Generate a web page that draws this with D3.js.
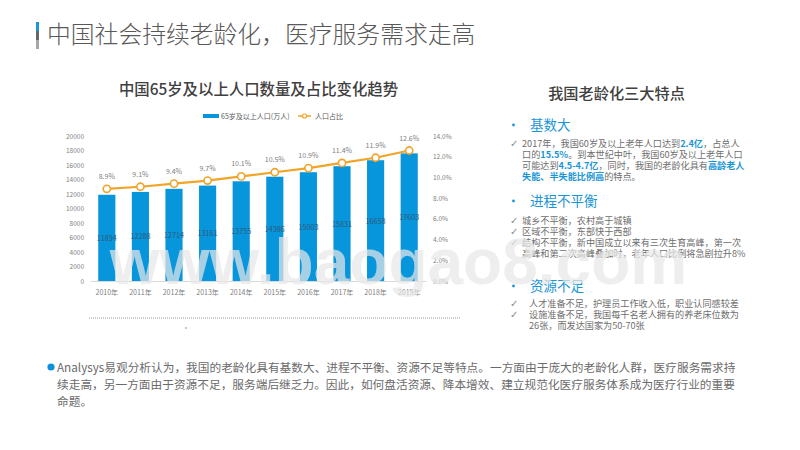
<!DOCTYPE html>
<html>
<head>
<meta charset="utf-8">
<title>中国社会持续老龄化，医疗服务需求走高</title>
<script src="https://d3js.org/d3.v7.min.js"></script>
<style>
    html, body { margin: 0; padding: 0; background: #fff; }
    svg { display: block; font-family: "Noto Sans CJK SC", "Noto Sans", sans-serif; }
</style>
</head>
<body>
<svg id="chart" width="800" height="450"></svg>
<script>
const years = ["2010年", "2011年", "2012年", "2013年", "2014年", "2015年", "2016年", "2017年", "2018年", "2019年"];
const population = [11894, 12288, 12714, 13161, 13755, 14386, 15003, 15831, 16658, 17603];
const share = [8.9, 9.1, 9.4, 9.7, 10.1, 10.5, 10.9, 11.4, 11.9, 12.6];
const leftTicks = [0, 2000, 4000, 6000, 8000, 10000, 12000, 14000, 16000, 18000, 20000];
const rightTicks = [0, 2, 4, 6, 8, 10, 12, 14];
const seriesNames = ["65岁及以上人口(万人)", "人口占比"];

const pageTitle = "中国社会持续老龄化，医疗服务需求走高";
const chartTitle = "中国65岁及以上人口数量及占比变化趋势";
const panelTitle = "我国老龄化三大特点";
const watermark = "www.baogao8.com";
// [text, highlighted] runs per line
const panelLines = [
    { y: 147, check: 510, x: 522, runs: [["2017年，我国60岁及以上老年人口达到"], ["2.4亿", 1], ["，占总人"]] },
    { y: 158, x: 522, runs: [["口的"], ["15.5%", 1], ["。到本世纪中叶，我国60岁及以上老年人口"]] },
    { y: 169, x: 522, runs: [["可能达到"], ["4.5-4.7亿", 1], ["，同时，我国的老龄化具有"], ["高龄老人", 1]] },
    { y: 180, x: 522, runs: [["失能、半失能比例高", 1], ["的特点。"]] },
    { y: 224, check: 510, x: 522, runs: [["城乡不平衡，农村高于城镇"]] },
    { y: 235, check: 510, x: 522, runs: [["区域不平衡，东部快于西部"]] },
    { y: 246, check: 510, x: 522, runs: [["结构不平衡，新中国成立以来有三次生育高峰，第一次"]] },
    { y: 257, x: 522, runs: [["高峰和第二次高峰叠加时，老年人口比例将急剧拉升8%"]] },
    { y: 307, check: 510, x: 529, runs: [["人才准备不足，护理员工作收入低，职业认同感较差"]] },
    { y: 318, check: 510, x: 529, runs: [["设施准备不足，我国每千名老人拥有的养老床位数为"]] },
    { y: 329, x: 529, runs: [["26张，而发达国家为50-70张"]] }
];
const panelHeads = [{ y: 130, text: "基数大" }, { y: 206, text: "进程不平衡" }, { y: 291, text: "资源不足" }];
const summaryLines = [
    "Analysys易观分析认为，我国的老龄化具有基数大、进程不平衡、资源不足等特点。一方面由于庞大的老龄化人群，医疗服务需求持",
    "续走高，另一方面由于资源不足，服务端后继乏力。因此，如何盘活资源、降本增效、建立规范化医疗服务体系成为医疗行业的重要",
    "命题。"
];

const blue = "#0795dc", orange = "#f0a428", grey = "#808080", dark = "#404040";
const svg = d3.select("#chart");

// header
svg.append("rect").attr("x", 36).attr("y", 22).attr("width", 3).attr("height", 9).attr("fill", "#1a96d6");
svg.append("rect").attr("x", 36).attr("y", 31).attr("width", 3).attr("height", 9).attr("fill", "#666");
svg.append("rect").attr("x", 36).attr("y", 40).attr("width", 3).attr("height", 9).attr("fill", "#a6a6a6");
svg.append("text").attr("x", 47).attr("y", 43).attr("font-size", 23.8).attr("font-weight", 300).attr("fill", "#595959").text(pageTitle);

// chart
const x = d3.scaleBand().domain(years).range([90, 426]).paddingInner(0.49).paddingOuter(0.245);
const yLeft = d3.scaleLinear().domain([0, 20000]).range([281, 136]);
const yRight = d3.scaleLinear().domain([0, 14]).range([281, 136]);
const cx = d => x(d) + x.bandwidth() / 2;

svg.append("text").attr("x", 258.5).attr("y", 95).attr("text-anchor", "middle")
    .attr("font-size", 15.4).attr("font-weight", 500).attr("fill", dark).text(chartTitle);

// legend
svg.append("rect").attr("x", 203).attr("y", 114).attr("width", 16).attr("height", 4).attr("fill", blue);
svg.append("text").attr("x", 221).attr("y", 119).attr("font-size", 7).attr("fill", "#595959").text(seriesNames[0]);
svg.append("line").attr("x1", 298).attr("x2", 311).attr("y1", 116).attr("y2", 116).attr("stroke", orange).attr("stroke-width", 1.5);
svg.append("circle").attr("cx", 304.5).attr("cy", 116).attr("r", 2).attr("fill", "#fff").attr("stroke", orange).attr("stroke-width", 1.2);
svg.append("text").attr("x", 315).attr("y", 119).attr("font-size", 7).attr("fill", "#595959").text(seriesNames[1]);

// axes
const axisLeft = svg.append("g").attr("transform", "translate(90,0)")
    .call(d3.axisLeft(yLeft).tickValues(leftTicks).tickSize(0).tickPadding(6).tickFormat(d3.format("d")));
const axisRight = svg.append("g").attr("transform", "translate(426,0)")
    .call(d3.axisRight(yRight).tickValues(rightTicks).tickSize(0).tickPadding(7).tickFormat(d => d.toFixed(1) + "%"));
const axisBottom = svg.append("g").attr("transform", "translate(0,281)")
    .call(d3.axisBottom(x).tickSize(0).tickPadding(9));
[axisLeft, axisRight].forEach(a => a.select(".domain").remove());
axisBottom.select(".domain").attr("stroke", "#d9d9d9");
[axisLeft, axisRight, axisBottom].forEach(a => a.selectAll("text")
    .attr("font-size", 6.5).attr("fill", grey).attr("font-family", '"Noto Sans CJK SC", sans-serif'));
axisBottom.selectAll("text").attr("font-size", 7);

// bars
svg.append("g").selectAll("rect").data(years).join("rect")
    .attr("x", d => x(d)).attr("width", x.bandwidth())
    .attr("y", (d, i) => yLeft(population[i]))
    .attr("height", (d, i) => yLeft(0) - yLeft(population[i]))
    .attr("fill", blue);
svg.append("g").selectAll("text").data(years).join("text")
    .attr("x", cx).attr("y", (d, i) => (yLeft(population[i]) + yLeft(0)) / 2 + 3)
    .attr("text-anchor", "middle").attr("font-size", 7.2).attr("fill", "#2f5a78")
    .text((d, i) => population[i]);

// line
const line = d3.line().x(d => cx(d)).y((d, i) => yRight(share[i]));
svg.append("path").attr("d", line(years)).attr("fill", "none").attr("stroke", orange).attr("stroke-width", 2.2);
svg.append("g").selectAll("circle").data(years).join("circle")
    .attr("cx", cx).attr("cy", (d, i) => yRight(share[i])).attr("r", 3.6)
    .attr("fill", "#fff").attr("stroke", orange).attr("stroke-width", 1.6);
svg.append("g").selectAll("text").data(years).join("text")
    .attr("x", cx).attr("y", (d, i) => yRight(share[i]) - 10)
    .attr("text-anchor", "middle").attr("font-size", 7).attr("fill", grey)
    .text((d, i) => share[i].toFixed(1) + "%");

// dotted rule under the chart
svg.append("line").attr("x1", 89).attr("x2", 460).attr("y1", 318).attr("y2", 318)
    .attr("stroke", "#808080").attr("stroke-width", 0.8).attr("stroke-dasharray", "1 1");
svg.append("circle").attr("cx", 186).attr("cy", 328).attr("r", 0.7).attr("fill", "#666");

// right panel
svg.append("text").attr("x", 616.5).attr("y", 99).attr("text-anchor", "middle")
    .attr("font-size", 15.2).attr("font-weight", 500).attr("fill", dark).text(panelTitle);
panelHeads.forEach(h => {
    svg.append("circle").attr("cx", 513.5).attr("cy", h.y - 5).attr("r", 1.4).attr("fill", "#1a96d6");
    svg.append("text").attr("x", 530).attr("y", h.y).attr("font-size", 13.5).attr("fill", "#1a96d6").text(h.text);
});
panelLines.forEach(l => {
    if (l.check) {
        svg.append("text").attr("x", l.check).attr("y", l.y).attr("font-size", 10)
            .attr("font-family", "DejaVu Sans").attr("fill", "#8a8a8a").text("✓");
    }
    const t = svg.append("text").attr("x", l.x).attr("y", l.y).attr("font-size", 9.15).attr("fill", "#6e6e6e");
    l.runs.forEach(r => {
        t.append("tspan").attr("fill", r[1] ? "#1a96d6" : null).attr("font-weight", r[1] ? 700 : null).text(r[0]);
    });
});

// summary
svg.append("circle").attr("cx", 51).attr("cy", 367).attr("r", 3.6).attr("fill", "#0c8fdc");
summaryLines.forEach((s, i) => {
    svg.append("text").attr("x", 57).attr("y", 372 + i * 17).attr("font-size", 11.7)
        .attr("fill", "#6b6b6b").text(s);
});

// watermark
svg.append("text").attr("x", 398.5).attr("y", 284).attr("text-anchor", "middle")
    .attr("font-family", "Liberation Sans").attr("font-weight", 700).attr("font-size", 64)
    .attr("fill", "#e8e8e8").attr("fill-opacity", 0.72).text(watermark);
</script>
</body>
</html>
